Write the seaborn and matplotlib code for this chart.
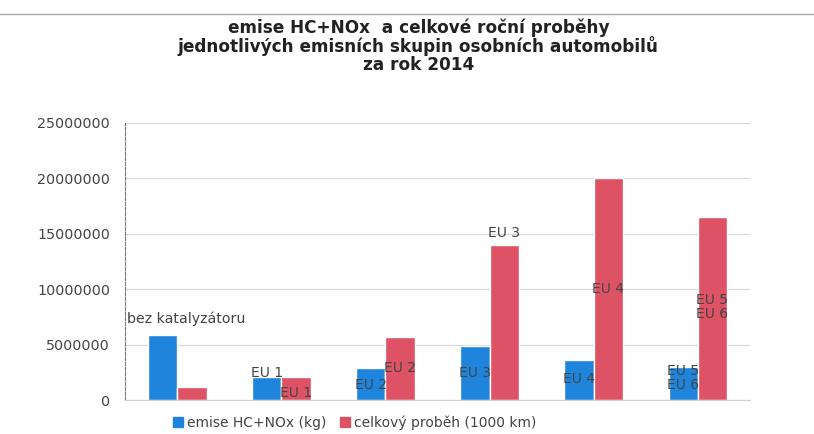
import matplotlib
matplotlib.use("Agg")
import matplotlib.pyplot as plt
from matplotlib.lines import Line2D
import pandas as pd
import seaborn as sns

groups = ["bez katalyzátoru", "EU 1", "EU 2", "EU 3", "EU 4", "EU 5/6"]
emise = [5850000, 2080000, 2900000, 4900000, 3600000, 2950000]
probeh = [1170000, 2080000, 5700000, 14000000, 20000000, 16500000]
series = ["emise HC+NOx (kg)", "celkový proběh (1000 km)"]
colors = ["#1e84dc", "#dd5264"]

# labels written next to the bars: (group index, series, text, y value)
bar_labels = [
    (1, 0, "EU 1", 2450000), (1, 1, "EU 1", 650000),
    (2, 0, "EU 2", 1350000), (2, 1, "EU 2", 2900000),
    (3, 0, "EU 3", 2450000), (3, 1, "EU 3", 15100000),
    (4, 0, "EU 4", 1900000), (4, 1, "EU 4", 10000000),
    (5, 0, "EU 5\nEU 6", 2000000), (5, 1, "EU 5\nEU 6", 8400000),
]

df = pd.DataFrame({
    "skupina": groups * 2,
    "serie": [series[0]] * len(groups) + [series[1]] * len(groups),
    "hodnota": emise + probeh,
})

sns.set_style("white")
plt.rcParams["font.family"] = ["DejaVu Sans"]

fig = plt.figure(figsize=(8.14, 4.34), dpi=100)
ax = fig.add_axes([0.154, 0.078, 0.767, 0.639])

sns.barplot(data=df, x="skupina", y="hodnota", hue="serie", palette=colors,
            width=0.56, saturation=1, ax=ax, legend=False)

ax.set_ylim(0, 25000000)
ax.set_yticks(range(0, 25000001, 5000000))
ax.set_yticklabels([str(v) for v in range(0, 25000001, 5000000)], fontsize=10.3, color="#444444")
ax.set_xlim(-0.5, len(groups) - 0.5)
ax.set_xticks([])
ax.set_xlabel("")
ax.set_ylabel("")
ax.grid(axis="y", color="#d8d8d8", linewidth=0.9)
ax.set_axisbelow(True)
for s in ["top", "right"]:
    ax.spines[s].set_visible(False)
ax.spines["bottom"].set_color("#d0d0d0")
ax.spines["left"].set_color("#777777")
ax.spines["left"].set_linestyle((0, (3, 1.5)))
ax.spines["left"].set_linewidth(0.8)
ax.tick_params(axis="y", length=4, color="#999999", pad=7)

ax.text(-0.48, 7300000, "bez katalyzátoru", fontsize=10.2, color="#444444",
        ha="left", va="center")
for gi, si, txt, yv in bar_labels:
    xpos = gi + (-0.14 if si == 0 else 0.14)
    ax.text(xpos, yv, txt, fontsize=10, color="#444444", ha="center",
            va="center", linespacing=1.0)

handles = [plt.Rectangle((0, 0), 1, 1, color=c) for c in colors]
fig.legend(handles, series, loc="center", bbox_to_anchor=(0.436, 0.027), ncol=2,
           frameon=False, fontsize=10, handlelength=0.7, handleheight=0.7,
           handletextpad=0.3, columnspacing=1.0, labelcolor="#444444")

fig.text(0.514, 0.894, "emise HC+NOx  a celkové roční proběhy\n"
         "jednotlivých emisních skupin osobních automobilů\nza rok 2014",
         ha="center", va="center", fontsize=12.2, fontweight="bold",
         linespacing=0.98, color="#222222")

fig.add_artist(Line2D([0, 1], [0.968, 0.968], color="#aaaaaa", linewidth=1))

fig.savefig("out.png", dpi=100)
